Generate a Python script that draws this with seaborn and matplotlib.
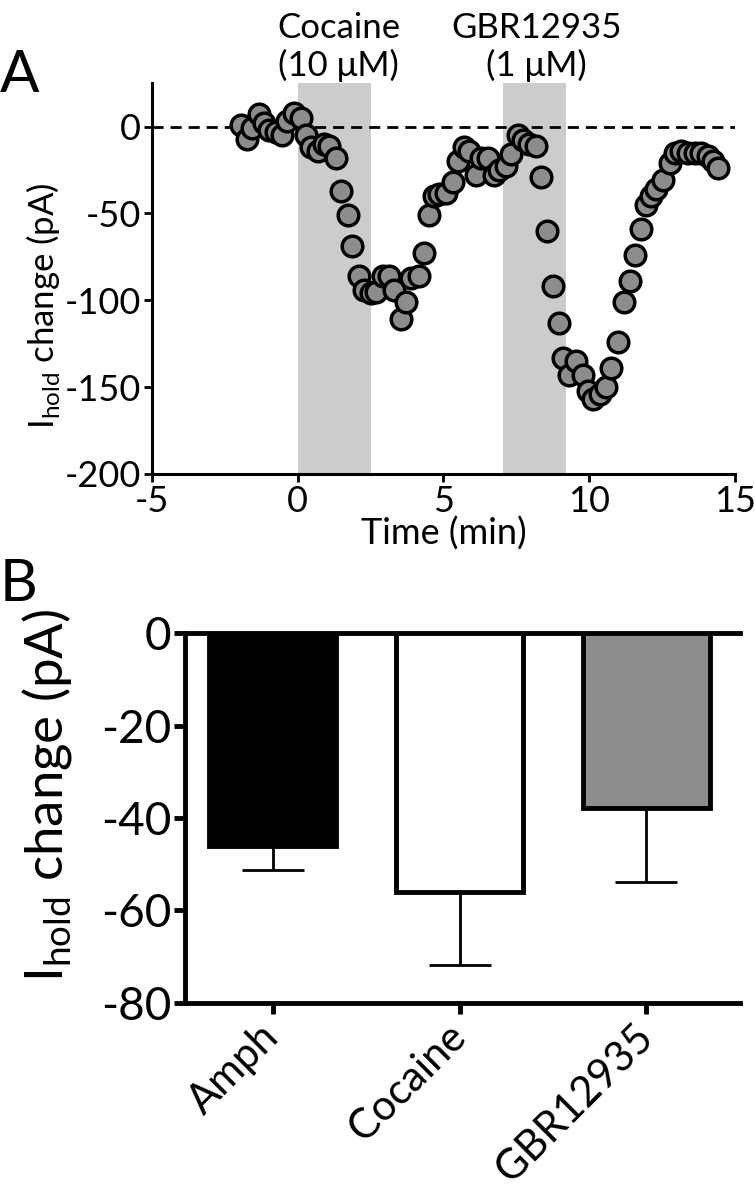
import matplotlib
matplotlib.use("Agg")
import matplotlib.pyplot as plt
import seaborn as sns
import pandas as pd

# panel A: holding current over time
time_min = [-1.96, -1.73, -1.56, -1.33, -1.16, -0.99, -0.76, -0.53, -0.35, -0.13,
            0.10, 0.27, 0.45, 0.68, 0.90, 1.08, 1.31, 1.48, 1.71, 1.88,
            2.11, 2.28, 2.51, 2.68, 2.91, 3.14, 3.31, 3.54, 3.71, 3.88,
            4.17, 4.34, 4.51, 4.69, 4.86, 5.09, 5.32, 5.49, 5.72, 5.89,
            6.12, 6.29, 6.52, 6.75, 6.92, 7.15, 7.32, 7.55, 7.72, 7.95,
            8.18, 8.35, 8.56, 8.75, 8.96, 9.12, 9.32, 9.55, 9.78, 9.96,
            10.13, 10.36, 10.58, 10.76, 10.99, 11.19, 11.39, 11.58, 11.79, 11.96,
            12.13, 12.30, 12.53, 12.76, 12.93, 13.16, 13.39, 13.62, 13.85, 14.08,
            14.25, 14.42]
ihold_pa = [1, -7, -1, 7, 2, -2, -3, -5, 3, 8,
            5, -5, -12, -14, -10, -11, -18, -37, -51, -69,
            -86, -94, -96, -95, -86, -86, -94, -111, -101, -87,
            -86, -73, -51, -40, -39, -38, -32, -20, -12, -14,
            -28, -18, -18, -28, -25, -23, -16, -5, -8, -10,
            -11, -29, -60, -92, -113, -133, -143, -135, -143, -152,
            -157, -154, -150, -139, -124, -101, -89, -74, -59, -45,
            -40, -36, -31, -21, -15, -14, -15, -15, -15, -17,
            -20, -24]
drug_windows = [(0.0, 2.5), (7.05, 9.2)]
drug_labels = ["Cocaine\n(10 μM)", "GBR12935\n(1 μM)"]
drug_label_x = [1.4, 8.2]

# panel B: mean change per drug
groups = ["Amph", "Cocaine", "GBR12935"]
mean_change = [-46.0, -56.0, -37.8]
sem_change = [5.3, 15.7, 16.1]
bar_colors = ["black", "white", "#8c8c8c"]

sns.set_style("ticks")
plt.rcParams["font.family"] = ["Lato", "DejaVu Sans"]
plt.rcParams["mathtext.fontset"] = "custom"
plt.rcParams["mathtext.rm"] = "Lato"
plt.rcParams["axes.unicode_minus"] = False
for key in ["axes.edgecolor", "xtick.color", "ytick.color", "text.color", "axes.labelcolor"]:
    plt.rcParams[key] = "black"

fig = plt.figure(figsize=(7.55, 11.99), dpi=100)

# ---- A ----
ax1 = fig.add_axes([0.2013, 0.6047, 0.772, 0.326])
for (start, stop), label, lx in zip(drug_windows, drug_labels, drug_label_x):
    ax1.axvspan(start, stop, color="#cccccc", lw=0, zorder=0)
    ax1.annotate(label, xy=(lx, 1.0), xycoords=("data", "axes fraction"),
                 xytext=(0, 1), textcoords="offset points",
                 ha="center", va="bottom", fontsize=25, linespacing=1.15)
ax1.axhline(0, color="black", ls=(0, (4, 2.5)), lw=2, zorder=1)

df_a = pd.DataFrame({"time": time_min, "ihold": ihold_pa})
sns.scatterplot(data=df_a, x="time", y="ihold", ax=ax1, s=220,
                color="#8c8c8c", edgecolor="black", linewidth=2.5, zorder=3)

ax1.set_xlim(-5, 15)
ax1.set_ylim(-200, 25)
ax1.set_xticks([-5, 0, 5, 10, 15])
ax1.set_yticks([0, -50, -100, -150, -200])
ax1.set_xlabel("Time (min)", fontsize=26, labelpad=-1)
ax1.set_ylabel(r"I$_{\mathregular{hold}}$ change (pA)", fontsize=25)
ax1.yaxis.set_label_coords(-0.155, 0.43)
ax1.tick_params(labelsize=26, width=2, length=6, pad=2)
for side in ["left", "bottom"]:
    ax1.spines[side].set_linewidth(2.2)
sns.despine(ax=ax1)
fig.text(0.0, 0.915, "A", fontsize=42, va="bottom")

# ---- B ----
ax2 = fig.add_axes([0.245, 0.1635, 0.735, 0.3085])
df_b = pd.DataFrame({"group": groups, "change": mean_change})
sns.barplot(data=df_b, x="group", y="change", hue="group", palette=bar_colors,
            legend=False, errorbar=None, width=0.68, ax=ax2,
            edgecolor="black", linewidth=3.5, zorder=3)
ax2.errorbar(range(len(groups)), mean_change,
             yerr=[sem_change, [0] * len(groups)], fmt="none",
             ecolor="black", elinewidth=2, capsize=22, capthick=2, zorder=2)
ax2.set_xlim(-0.47, 2.5)
ax2.set_ylim(-80, 0)
ax2.set_yticks([0, -20, -40, -60, -80])
ax2.set_xlabel("")
ax2.set_ylabel(r"I$_{\mathregular{hold}}$ change (pA)", fontsize=38)
ax2.yaxis.set_label_coords(-0.2, 0.56)
ax2.tick_params(axis="y", labelsize=33, width=3.5, length=8, pad=2)
ax2.tick_params(axis="x", labelsize=30, width=3.5, length=8, pad=12)
plt.setp(ax2.get_xticklabels(), rotation=45, ha="right", va="center",
         rotation_mode="anchor")
for side in ["left", "bottom", "top"]:
    ax2.spines[side].set_linewidth(3.5)
ax2.spines["right"].set_visible(False)
fig.text(0.0, 0.49, "B", fontsize=42, va="bottom")

fig.savefig("out.png", dpi=100)
